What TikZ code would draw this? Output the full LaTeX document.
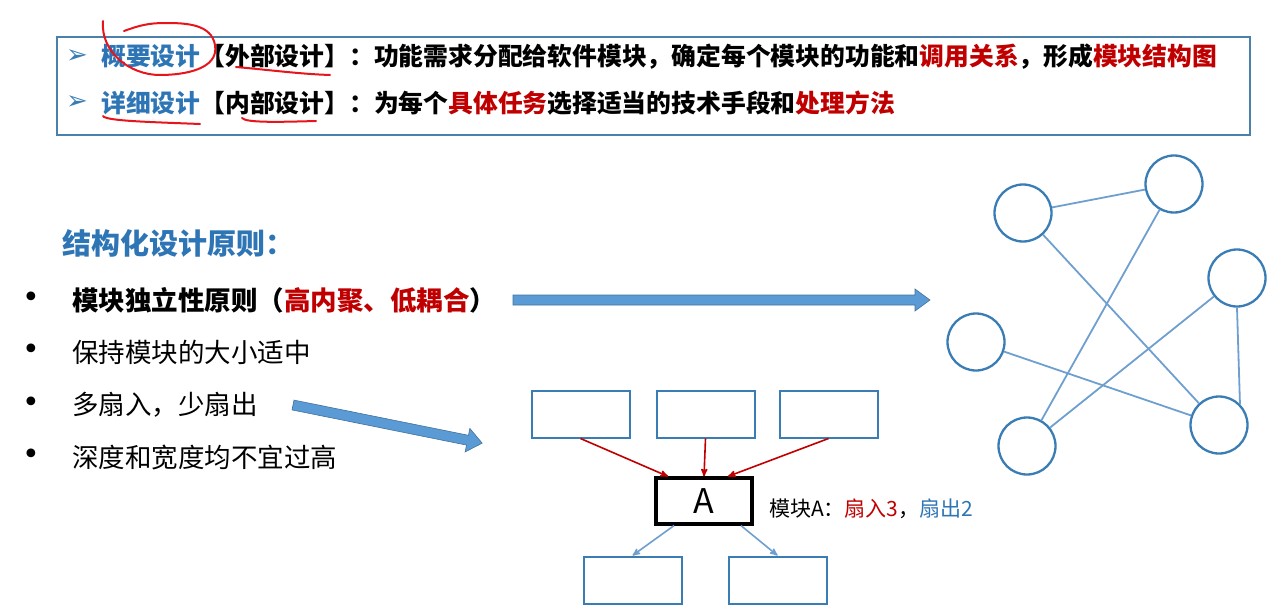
\documentclass[tikz,border=0pt]{standalone}
\usepackage{fontspec}
\setmainfont{Noto Sans CJK SC}
\newfontfamily\symfont{DejaVu Sans}
\usetikzlibrary{arrows}
\definecolor{hblue}{HTML}{2E75B6}
\definecolor{hred}{HTML}{C00000}
\definecolor{penred}{HTML}{E8141B}
\definecolor{frameblue}{HTML}{4A80AA}
\definecolor{boxblue}{HTML}{3A7DB5}
\definecolor{edgeblue}{HTML}{6E9FCF}
\definecolor{arrowfill}{HTML}{5B9BD5}
\definecolor{arrowline}{HTML}{41719C}
\tikzset{
	mod node/.style={rectangle,draw=boxblue,line width=2pt,minimum width=98pt,minimum height=47pt},
	main mod/.style={rectangle,draw=black,line width=3.2pt,minimum width=96pt,minimum height=46pt,font=\fontsize{34}{40}\selectfont},
	graph node/.style={circle,draw=boxblue,line width=2.3pt,minimum size=57pt,inner sep=0pt},
	graph edge/.style={draw=edgeblue,line width=1.8pt},
	fan in/.style={draw=hred,line width=1.6pt,->},
	fan out/.style={draw=edgeblue,line width=1.6pt,->},
	top line/.style={anchor=west,inner sep=0pt,font=\fontsize{24.8}{30}\selectfont\bfseries},
	item line/.style={anchor=west,inner sep=0pt,font=\fontsize{26.5}{32}\selectfont},
	dot/.style={font=\symfont\fontsize{30}{32}\selectfont,inner sep=0pt},
	pen/.style={draw=penred,line width=2pt,line cap=round},
	big arrow/.style={fill=arrowfill,draw=arrowline,line width=0.6pt}
}

\begin{document}
\begin{tikzpicture}[x=1pt,y=-1pt,>=stealth']
	\useasboundingbox (0,0) rectangle (1280,610);
	% top box
	\draw[frameblue,line width=2pt] (57,37) rectangle (1250,135);
	\node[text=boxblue,font=\symfont\fontsize{26}{28}\selectfont,inner sep=0pt] (m1) at (77,57) {➢};
	\node[text=boxblue,font=\symfont\fontsize{26}{28}\selectfont,inner sep=0pt] (m2) at (77,103) {➢};
	\node[top line] (l1) at (101,57) {\textcolor{hblue}{概要设计}【外部设计】：功能需求分配给软件模块，确定每个模块的功能和\textcolor{hred}{调用关系}，形成\textcolor{hred}{模块结构图}};
	\node[top line] (l2) at (101,103) {\textcolor{hblue}{详细设计}【内部设计】：为每个\textcolor{hred}{具体任务}选择适当的技术手段和\textcolor{hred}{处理方法}};
	% hand marks
	\draw[pen] (103,21) to[out=-95,in=180] (160,75)
		to[out=0,in=-80] (215,45)
		to[out=100,in=0] (165,23)
		to[out=180,in=20] (124,31);
	\draw[pen] (236,67) .. controls (270,70) and (300,74) .. (330,75);
	\draw[pen] (103,116) .. controls (106,121) and (150,122) .. (200,124);
	\draw[pen] (242,118) .. controls (246,123) and (280,122) .. (316,121);

	% principles
	\node[anchor=west,inner sep=0pt,text=hblue,font=\fontsize{29}{34}\selectfont\bfseries] (head) at (62,243) {结构化设计原则：};
	\foreach \y/\n in {300/1,352/2,405/3,457/4}
		\node[dot] (d\n) at (31,\y) {•};
	\node[item line,font=\fontsize{26.5}{32}\selectfont\bfseries] (p1) at (72,300) {模块独立性原则（\textcolor{hred}{高内聚、低耦合}）};
	\node[item line] (p2) at (72,352) {保持模块的大小适中};
	\node[item line] (p3) at (72,405) {多扇入，少扇出};
	\node[item line] (p4) at (72,457) {深度和宽度均不宜过高};

	% block arrows
	\filldraw[big arrow,shift={(513,300)}] (0,-5) -- (402,-5) -- (402,-11) -- (417,0) -- (402,11) -- (402,5) -- (0,5) -- cycle;
	\filldraw[big arrow,shift={(293,405)},rotate=-11.4] (0,-5) -- (178,-5) -- (178,-12) -- (193,0) -- (178,12) -- (178,5) -- (0,5) -- cycle;

	% fan-in / fan-out
	\node[mod node] (t1) at (580.5,414) {};
	\node[mod node] (t2) at (705.5,414) {};
	\node[mod node] (t3) at (828.5,414) {};
	\node[main mod] (a) at (704,501) {A};
	\node[mod node] (b1) at (632.5,580) {};
	\node[mod node] (b2) at (777.5,580) {};
	\draw[fan in] (t1.south) -- ([xshift=-36pt]a.north);
	\draw[fan in] (t2.south) -- (a.north);
	\draw[fan in] (t3.south) -- ([xshift=24pt]a.north);
	\draw[fan out] ([xshift=-30pt]a.south) -- (b1.north);
	\draw[fan out] ([xshift=37pt]a.south) -- (b2.north);
	\node[anchor=west,inner sep=0pt,font=\fontsize{21}{24}\selectfont] (lab) at (769,509)
		{模块A：\textcolor{hred}{扇入3}，\textcolor{hblue}{扇出2}};

	% module graph
	\node[graph node] (c1) at (1023,213) {};
	\node[graph node] (c2) at (1174,184) {};
	\node[graph node] (c3) at (1237,278) {};
	\node[graph node] (c4) at (976,342) {};
	\node[graph node] (c5) at (1027,446) {};
	\node[graph node] (c6) at (1219,425) {};
	\draw[graph edge] (c1) -- (c2);
	\draw[graph edge] (c1) -- (c6);
	\draw[graph edge] (c2) -- (c5);
	\draw[graph edge] (c3) -- (c5);
	\draw[graph edge] (c3.south) -- (c6.north east);
	\draw[graph edge] (c4) -- (c6);
\end{tikzpicture}
\end{document}
